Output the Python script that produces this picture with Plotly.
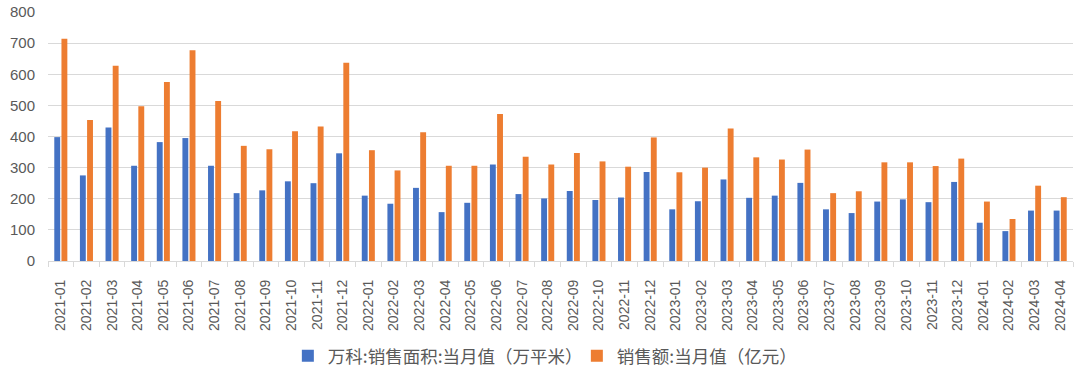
import plotly.graph_objects as go

months = [
    "2021-01","2021-02","2021-03","2021-04","2021-05","2021-06","2021-07","2021-08","2021-09","2021-10","2021-11","2021-12",
    "2022-01","2022-02","2022-03","2022-04","2022-05","2022-06","2022-07","2022-08","2022-09","2022-10","2022-11","2022-12",
    "2023-01","2023-02","2023-03","2023-04","2023-05","2023-06","2023-07","2023-08","2023-09","2023-10","2023-11","2023-12",
    "2024-01","2024-02","2024-03","2024-04",
]
area = [
    398, 275, 429, 306, 382, 395, 306, 218, 227, 256, 250, 346,
    210, 184, 235, 157, 187, 310, 215, 201, 225, 196, 204, 286,
    166, 192, 262, 203, 210, 251, 166, 154, 191, 198, 189, 254,
    123, 96, 162, 162,
]
amount = [
    714, 453, 627, 497, 575, 677, 514, 370, 359, 417, 432, 637,
    356, 291, 414, 306, 306, 472, 335, 310, 347, 320, 303, 397,
    285, 300, 426, 333, 326, 358, 218, 224, 317, 317, 305, 329,
    191, 135, 242, 205,
]
y_ticks = [0, 100, 200, 300, 400, 500, 600, 700, 800]
name_area = "万科:销售面积:当月值（万平米）"
name_amount = "销售额:当月值（亿元）"

NUM_FONT = "Liberation Sans"
CJK_FONT = "Noto Sans CJK SC"
fig = go.Figure()
fig.add_trace(go.Bar(x=months, y=area, name=name_area, marker=dict(color="#4472C4", line=dict(width=0))))
fig.add_trace(go.Bar(x=months, y=amount, name=name_amount, marker=dict(color="#ED7D31", line=dict(width=0))))

fig.update_layout(
    width=1080, height=370,
    margin=dict(l=48, r=7, t=12, b=109, autoexpand=False),
    paper_bgcolor="white", plot_bgcolor="white",
    barmode="group", bargap=0.44, bargroupgap=0.18,
    font=dict(family=NUM_FONT, color="#595959", size=14),
    legend=dict(orientation="h", x=0.234, xanchor="left",
                y=-0.3815, yanchor="middle",
                entrywidth=244, entrywidthmode="pixels",
                font=dict(family=CJK_FONT, size=17.5, color="#595959"), traceorder="normal"),
    showlegend=True,
)
fig.update_xaxes(
    type="category", tickangle=-90, tickfont=dict(family=NUM_FONT, size=14, color="#595959"),
    tickmode="linear", dtick=1,
    showgrid=False, showline=True, linecolor="#d9d9d9", linewidth=1,
    ticks="outside", tickson="boundaries", ticklen=5, tickcolor="#d9d9d9",
    ticklabelstandoff=12, automargin=False,
)
fig.update_yaxes(
    range=[0, 800], tickvals=y_ticks, tickfont=dict(family=NUM_FONT, size=15, color="#595959"),
    showgrid=True, gridcolor="#d9d9d9", gridwidth=1, zeroline=False,
    showline=False, ticks="", ticklabelstandoff=12, automargin=False,
)
fig.write_html("out.html", config={"displayModeBar": False},
               post_script="document.body.style.margin='0';document.body.style.overflow='hidden';")
